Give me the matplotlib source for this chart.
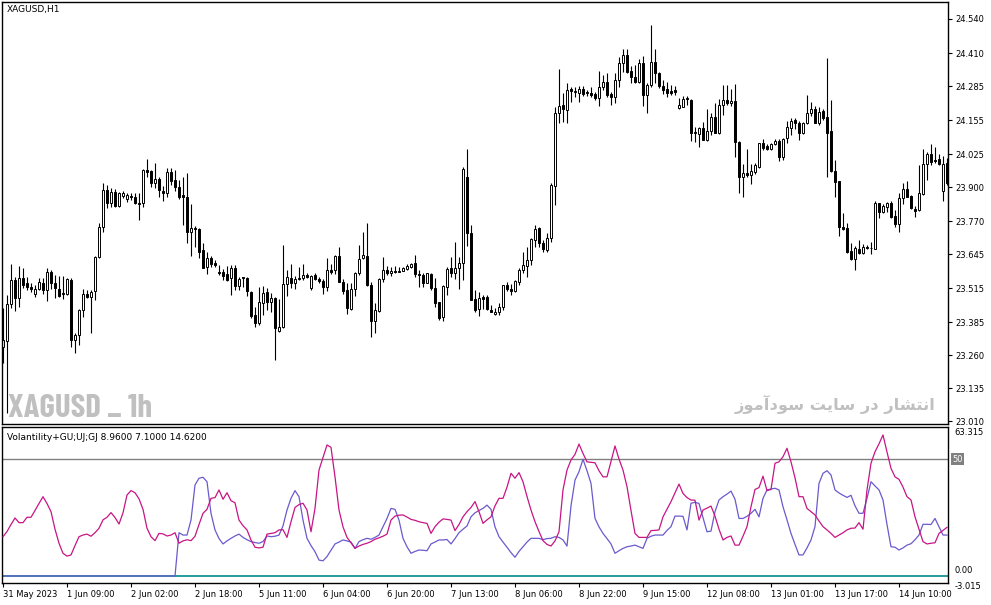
import numpy as np
import matplotlib.pyplot as plt
from matplotlib import font_manager as fm

# XAGUSD H1 candles, 31 May - 14 Jun 2023
opens = [23.291, 23.314, 23.455, 23.547, 23.478, 23.554, 23.535, 23.520, 23.493, 23.512,
         23.535, 23.508, 23.577, 23.535, 23.512, 23.497, 23.493, 23.547, 23.318, 23.337,
         23.432, 23.493, 23.482, 23.505, 23.634, 23.748, 23.889, 23.840, 23.881, 23.828,
         23.866, 23.855, 23.866, 23.862, 23.840, 23.840, 23.965, 23.961, 23.916, 23.931,
         23.885, 23.878, 23.958, 23.927, 23.901, 23.870, 23.862, 23.729, 23.744, 23.741,
         23.661, 23.596, 23.630, 23.611, 23.577, 23.577, 23.569, 23.554, 23.592, 23.524,
         23.558, 23.554, 23.501, 23.413, 23.383, 23.459, 23.501, 23.463, 23.478, 23.352,
         23.368, 23.531, 23.554, 23.535, 23.554, 23.554, 23.566, 23.516, 23.566, 23.550,
         23.543, 23.520, 23.585, 23.585, 23.638, 23.539, 23.508, 23.436, 23.512, 23.573,
         23.630, 23.638, 23.528, 23.390, 23.428, 23.550, 23.585, 23.573, 23.581, 23.581,
         23.581, 23.588, 23.596, 23.611, 23.569, 23.566, 23.535, 23.569, 23.516, 23.463,
         23.406, 23.520, 23.592, 23.573, 23.592, 23.611, 23.939, 23.725, 23.474, 23.436,
         23.482, 23.482, 23.432, 23.417, 23.425, 23.444, 23.528, 23.512, 23.505, 23.539,
         23.585, 23.600, 23.623, 23.699, 23.744, 23.687, 23.661, 23.706, 23.904, 24.182,
         24.213, 24.194, 24.274, 24.262, 24.258, 24.274, 24.262, 24.258, 24.255, 24.239,
         24.281, 24.300, 24.255, 24.243, 24.308, 24.372, 24.403, 24.342, 24.319, 24.300,
         24.372, 24.251, 24.289, 24.376, 24.334, 24.285, 24.274, 24.266, 24.270, 24.201,
         24.205, 24.239, 24.232, 24.110, 24.102, 24.125, 24.079, 24.114, 24.167, 24.106,
         24.213, 24.232, 24.220, 24.228, 24.072, 23.939, 23.954, 23.946, 23.958, 23.977,
         24.068, 24.057, 24.045, 24.064, 24.076, 24.015, 24.087, 24.125, 24.156, 24.144,
         24.106, 24.144, 24.182, 24.197, 24.144, 24.190, 24.167, 24.114, 23.961, 23.923,
         23.748, 23.744, 23.657, 23.626, 23.664, 23.649, 23.672, 23.668, 23.664, 23.840,
         23.805, 23.824, 23.840, 23.790, 23.760, 23.859, 23.893, 23.866, 23.817, 23.813,
         23.874, 23.988, 24.026, 24.003, 24.007, 23.885, 23.992]
highs = [23.440, 23.489, 23.607, 23.558, 23.600, 23.592, 23.558, 23.535, 23.528, 23.554,
         23.554, 23.592, 23.585, 23.566, 23.562, 23.562, 23.554, 23.554, 23.345, 23.436,
         23.512, 23.508, 23.508, 23.638, 23.764, 23.916, 23.908, 23.897, 23.893, 23.881,
         23.885, 23.878, 23.878, 23.878, 23.878, 23.969, 24.007, 23.965, 23.992, 23.939,
         23.904, 23.973, 23.973, 23.965, 23.927, 23.939, 23.954, 23.836, 23.752, 23.744,
         23.687, 23.653, 23.638, 23.623, 23.604, 23.588, 23.600, 23.604, 23.604, 23.558,
         23.558, 23.558, 23.505, 23.444, 23.520, 23.524, 23.516, 23.497, 23.482, 23.474,
         23.680, 23.585, 23.607, 23.562, 23.596, 23.607, 23.573, 23.566, 23.573, 23.558,
         23.550, 23.630, 23.607, 23.642, 23.672, 23.550, 23.535, 23.535, 23.577, 23.680,
         23.729, 23.764, 23.539, 23.459, 23.554, 23.634, 23.600, 23.596, 23.600, 23.596,
         23.596, 23.607, 23.611, 23.642, 23.585, 23.573, 23.573, 23.573, 23.554, 23.463,
         23.528, 23.596, 23.634, 23.691, 23.634, 23.977, 24.045, 23.756, 23.508, 23.501,
         23.489, 23.489, 23.451, 23.440, 23.459, 23.528, 23.539, 23.531, 23.547, 23.592,
         23.653, 23.672, 23.706, 23.756, 23.748, 23.699, 23.725, 23.916, 24.205, 24.350,
         24.258, 24.296, 24.281, 24.281, 24.285, 24.285, 24.270, 24.281, 24.262, 24.342,
         24.327, 24.334, 24.262, 24.334, 24.395, 24.426, 24.426, 24.361, 24.365, 24.388,
         24.399, 24.296, 24.517, 24.426, 24.338, 24.308, 24.300, 24.289, 24.285, 24.239,
         24.247, 24.247, 24.236, 24.129, 24.129, 24.148, 24.197, 24.182, 24.220, 24.236,
         24.289, 24.289, 24.274, 24.293, 24.076, 23.988, 24.045, 23.988, 23.992, 24.068,
         24.083, 24.064, 24.068, 24.083, 24.083, 24.087, 24.152, 24.163, 24.163, 24.152,
         24.148, 24.251, 24.224, 24.209, 24.205, 24.197, 24.392, 24.232, 24.003, 23.923,
         23.802, 23.764, 23.687, 23.676, 23.699, 23.684, 23.680, 23.691, 23.847, 23.840,
         23.836, 23.843, 23.847, 23.813, 23.878, 23.916, 23.923, 23.870, 23.828, 23.984,
         24.045, 24.034, 24.064, 24.053, 24.026, 24.018, 24.011]
lows = [23.231, 23.040, 23.440, 23.428, 23.444, 23.516, 23.508, 23.501, 23.482, 23.508,
        23.493, 23.467, 23.512, 23.478, 23.482, 23.474, 23.489, 23.291, 23.269, 23.299,
        23.406, 23.478, 23.345, 23.470, 23.630, 23.729, 23.821, 23.824, 23.824, 23.824,
        23.859, 23.843, 23.851, 23.836, 23.775, 23.824, 23.939, 23.901, 23.897, 23.862,
        23.847, 23.862, 23.908, 23.885, 23.855, 23.756, 23.687, 23.638, 23.672, 23.630,
        23.592, 23.569, 23.596, 23.596, 23.566, 23.547, 23.543, 23.489, 23.508, 23.508,
        23.520, 23.486, 23.402, 23.368, 23.375, 23.413, 23.432, 23.425, 23.242, 23.349,
        23.364, 23.486, 23.516, 23.512, 23.547, 23.547, 23.554, 23.508, 23.547, 23.535,
        23.493, 23.505, 23.569, 23.569, 23.539, 23.493, 23.417, 23.432, 23.486, 23.566,
        23.626, 23.524, 23.330, 23.345, 23.425, 23.539, 23.566, 23.562, 23.573, 23.577,
        23.581, 23.585, 23.592, 23.558, 23.520, 23.520, 23.535, 23.508, 23.444, 23.394,
        23.390, 23.489, 23.558, 23.550, 23.512, 23.547, 23.676, 23.470, 23.425, 23.409,
        23.436, 23.432, 23.425, 23.413, 23.413, 23.432, 23.505, 23.489, 23.501, 23.528,
        23.573, 23.558, 23.604, 23.672, 23.672, 23.653, 23.653, 23.691, 23.832, 24.144,
        24.148, 24.144, 24.224, 24.243, 24.224, 24.247, 24.247, 24.243, 24.232, 24.209,
        24.270, 24.243, 24.213, 24.220, 24.281, 24.338, 24.334, 24.296, 24.296, 24.296,
        24.209, 24.182, 24.281, 24.296, 24.277, 24.255, 24.243, 24.251, 24.251, 24.197,
        24.205, 24.213, 24.076, 24.072, 24.053, 24.079, 24.076, 24.098, 24.106, 24.102,
        24.175, 24.213, 24.209, 24.015, 23.878, 23.862, 23.939, 23.912, 23.950, 23.973,
        24.041, 24.041, 24.041, 24.060, 23.999, 24.003, 24.068, 24.098, 24.121, 24.079,
        24.102, 24.140, 24.171, 24.144, 24.137, 24.156, 23.939, 23.958, 23.862, 23.714,
        23.737, 23.649, 23.623, 23.585, 23.645, 23.645, 23.664, 23.645, 23.664, 23.783,
        23.802, 23.805, 23.783, 23.748, 23.729, 23.836, 23.862, 23.817, 23.786, 23.809,
        23.870, 23.927, 23.984, 23.992, 23.984, 23.847, 23.908]
closes = [23.318, 23.455, 23.547, 23.478, 23.554, 23.528, 23.520, 23.512, 23.512, 23.539,
          23.508, 23.577, 23.535, 23.516, 23.486, 23.493, 23.550, 23.318, 23.337, 23.432,
          23.493, 23.482, 23.501, 23.634, 23.748, 23.889, 23.840, 23.881, 23.828, 23.878,
          23.878, 23.870, 23.862, 23.840, 23.836, 23.965, 23.958, 23.916, 23.931, 23.889,
          23.878, 23.958, 23.923, 23.901, 23.862, 23.862, 23.729, 23.744, 23.741, 23.653,
          23.592, 23.630, 23.607, 23.604, 23.573, 23.562, 23.547, 23.592, 23.524, 23.550,
          23.554, 23.505, 23.409, 23.383, 23.463, 23.497, 23.463, 23.478, 23.364, 23.368,
          23.531, 23.558, 23.535, 23.550, 23.550, 23.566, 23.558, 23.562, 23.550, 23.543,
          23.520, 23.585, 23.577, 23.638, 23.539, 23.505, 23.440, 23.512, 23.573, 23.626,
          23.642, 23.528, 23.390, 23.432, 23.550, 23.585, 23.573, 23.581, 23.577, 23.577,
          23.592, 23.600, 23.607, 23.569, 23.566, 23.535, 23.573, 23.516, 23.459, 23.402,
          23.524, 23.588, 23.573, 23.592, 23.611, 23.969, 23.725, 23.470, 23.432, 23.478,
          23.474, 23.436, 23.425, 23.425, 23.444, 23.528, 23.512, 23.505, 23.543, 23.585,
          23.604, 23.623, 23.703, 23.741, 23.687, 23.664, 23.706, 23.908, 24.182, 24.209,
          24.197, 24.270, 24.266, 24.266, 24.274, 24.255, 24.258, 24.251, 24.239, 24.281,
          24.300, 24.251, 24.243, 24.308, 24.372, 24.403, 24.338, 24.319, 24.300, 24.372,
          24.251, 24.289, 24.376, 24.334, 24.285, 24.270, 24.258, 24.258, 24.262, 24.213,
          24.236, 24.236, 24.106, 24.106, 24.125, 24.079, 24.114, 24.167, 24.106, 24.213,
          24.232, 24.220, 24.228, 24.072, 23.939, 23.954, 23.946, 23.961, 23.984, 24.068,
          24.049, 24.045, 24.064, 24.076, 24.015, 24.083, 24.129, 24.152, 24.144, 24.106,
          24.144, 24.182, 24.197, 24.144, 24.186, 24.163, 24.106, 23.961, 23.920, 23.748,
          23.741, 23.653, 23.626, 23.668, 23.649, 23.672, 23.668, 23.668, 23.840, 23.805,
          23.828, 23.840, 23.786, 23.760, 23.859, 23.893, 23.862, 23.821, 23.809, 23.878,
          23.988, 24.026, 23.996, 23.999, 23.988, 23.988, 23.916]

# indicator: Volantility+GU;UJ;GJ
vol_magenta = [16.8, 19, 22, 24.8, 22.8, 22.8, 25.1, 25.1, 28, 31,
               33.9, 31, 27.5, 20, 14, 9.7, 8.5, 9, 13, 16.8,
               17.5, 17.9, 17, 18.5, 20.4, 24, 25.1, 27.1, 25, 22.2,
               27, 34.6, 36.5, 35.6, 33, 28.5, 20.4, 16.8, 15.1, 18.2,
               18, 17.1, 17.5, 18.5, 14.0, 15, 15.5, 15.1, 17, 22,
               26.8, 28.5, 33.2, 33.5, 36.8, 32.8, 35.6, 32.2, 31.3, 23.9,
               21.5, 19.7, 15.4, 12.3, 12.0, 12.3, 17.9, 18.2, 18.5, 19.7,
               19.8, 16.5, 23.2, 29.3, 30.5, 31.1, 28.2, 18.9, 28.9, 45.3,
               50.7, 56.0, 55.0, 42.4, 28.2, 21, 16.5, 14.2, 11.8, 12.8,
               13.5, 14, 14.7, 15.7, 16.3, 17, 17.9, 23.9, 25.6, 26,
               26.1, 25.2, 24.2, 23.8, 23.2, 22.8, 22.5, 18.2, 21.1, 23,
               24.4, 24.2, 23.9, 19.4, 22, 25.3, 27.5, 29.3, 31.8, 27.5,
               22.5, 24, 25.3, 30, 33.2, 33.2, 38, 43.9, 41.8, 44.2,
               40.3, 34, 28.2, 23.2, 19, 15.1, 13.5, 12.8, 15, 18.9,
               36.8, 45.3, 49.6, 52, 56.4, 52.4, 48.8, 48.6, 48.4, 45,
               42.4, 42.4, 49, 55.6, 50, 45.3, 38.2, 28, 18.2, 16.5,
               16.5, 16.5, 19.4, 19.5, 19.7, 25.3, 28.5, 31.8, 35.5, 39.3,
               35.3, 33.5, 32.5, 32.4, 23.9, 28.2, 29, 29.9, 25.6, 20,
               15.4, 16.5, 17.1, 13.2, 13.2, 17, 21.1, 29.6, 37.0, 37.8,
               42.7, 36.5, 37, 48.2, 48.8, 51, 54.6, 48.8, 42, 33.9,
               33.9, 28.9, 27.5, 26.1, 23.5, 21.1, 19.7, 18.2, 16.5, 17.5,
               18.5, 19.7, 20.4, 20.5, 22.8, 20.0, 36.8, 48.2, 53.1, 56.5,
               60.3, 53, 46.0, 42.4, 41.3, 38, 33.9, 32.5, 25.3, 20,
               14.7, 13.7, 14, 14.2, 18.2, 19.5, 20.8]
vol_blue = [0] * 44 + [
               18.5, 17.5, 17.5, 23.9, 38.9, 41.8, 42.2, 40.3, 26.8, 19.7,
               16, 13.7, 15, 16.1, 17.1, 17.9, 16.5, 15.5, 14.7, 14.3,
               14.0, 14.7, 17.1, 16.8, 17, 17.5, 21.4, 28.2, 33.2, 36.5,
               33.9, 23.9, 16.1, 13, 10.4, 6.8, 6.5, 8.3, 11, 13.7,
               14.5, 15.4, 15, 14.5, 11.8, 14.7, 15.5, 16.1, 15.7, 16.5,
               17.5, 21, 24.6, 28.9, 28.5, 23.9, 16.1, 12.5, 9.7, 10.5,
               11.1, 11, 10.8, 13.7, 14.5, 15.4, 15.4, 15.6, 13.7, 16,
               18.5, 20, 21.4, 25.3, 27, 28, 28.9, 30.3, 28.5, 21,
               16.8, 14.5, 12.3, 10, 8.0, 10.5, 12.5, 14.5, 16.1, 16.1,
               16.1, 15.5, 16, 16.1, 16.8, 16.5, 15.4, 12.8, 30, 41.0,
               44.6, 49.9, 45, 39.6, 24.6, 21, 18.2, 16, 13.7, 9.7,
               10.8, 11.8, 12.5, 12.8, 13.2, 12.5, 11.8, 16.1, 17, 17.5,
               17.5, 17.5, 19.5, 21.1, 25.6, 25.6, 25.5, 19.7, 31.1, 31.5,
               31, 25, 18.9, 19.2, 27.5, 32.5, 33.9, 35, 36.3, 32.8,
               24.6, 24.6, 25.5, 26.8, 28.5, 25.3, 33.2, 36.8, 37.2, 37.5,
               36.8, 29.6, 24, 18.2, 13.5, 9.0, 9.0, 12, 15.4, 21.1,
               39.6, 43.9, 45.0, 43.2, 36.8, 35.5, 34.5, 33.6, 34.5, 30,
               26.8, 26.8, 33.2, 40.3, 38.5, 36.8, 32.5, 22, 12.5, 12.3,
               11.1, 12, 13.2, 13.8, 15.5, 17.5, 22.1, 22.1, 22, 24.6,
               21, 17.5, 17.5]

price_ticks = [24.540, 24.410, 24.285, 24.155, 24.025, 23.900, 23.770,
               23.645, 23.515, 23.385, 23.260, 23.135, 23.010]
time_labels = ["31 May 2023", "1 Jun 09:00", "2 Jun 02:00", "2 Jun 18:00",
               "5 Jun 11:00", "6 Jun 04:00", "6 Jun 20:00", "7 Jun 13:00",
               "8 Jun 06:00", "8 Jun 22:00", "9 Jun 15:00", "12 Jun 08:00",
               "13 Jun 01:00", "13 Jun 17:00", "14 Jun 10:00"]
label_step = 16

watermark_en = "XAGUSD _ 1h"
watermark_fa = "انتشار در سایت سودآموز"

# matplotlib has no arabic shaping, so pick the presentation forms by hand
FORMS = {
    'ا': ('\uFE8D', '\uFE8E', None, None),
    'آ': ('\uFE81', '\uFE82', None, None),
    'ن': ('\uFEE5', '\uFEE6', '\uFEE7', '\uFEE8'),
    'ت': ('\uFE95', '\uFE96', '\uFE97', '\uFE98'),
    'ش': ('\uFEB5', '\uFEB6', '\uFEB7', '\uFEB8'),
    'ر': ('\uFEAD', '\uFEAE', None, None),
    'د': ('\uFEA9', '\uFEAA', None, None),
    'س': ('\uFEB1', '\uFEB2', '\uFEB3', '\uFEB4'),
    'ی': ('\uFBFC', '\uFBFD', '\uFBFE', '\uFBFF'),
    'و': ('\uFEED', '\uFEEE', None, None),
    'م': ('\uFEE1', '\uFEE2', '\uFEE3', '\uFEE4'),
    'ز': ('\uFEAF', '\uFEB0', None, None),
}


def shape_word(word):
    out = []
    for k, ch in enumerate(word):
        iso, fin, ini, med = FORMS[ch]
        prev_joins = k > 0 and FORMS[word[k - 1]][2] is not None
        next_joins = k + 1 < len(word) and ini is not None
        if prev_joins and next_joins:
            out.append(med)
        elif prev_joins:
            out.append(fin)
        elif next_joins:
            out.append(ini)
        else:
            out.append(iso)
    return ''.join(reversed(out))


def shape_rtl(text):
    return ' '.join(shape_word(w) for w in reversed(text.split()))


def condensed_bold():
    # look for a bold condensed face for the watermark, else plain DejaVu bold
    for want in ('Barlow Condensed', 'Asap Condensed', 'Archivo Narrow'):
        for f in fm.fontManager.ttflist:
            if f.name == want and f.style == 'normal' and f.weight in (700, 'bold'):
                return fm.FontProperties(fname=f.fname)
    return fm.FontProperties(family='DejaVu Sans', weight='bold')


def fit_width(t, target_px, renderer):
    w = t.get_window_extent(renderer).width
    t.set_fontsize(t.get_fontsize() * target_px / w)


W, H = 991, 605
fig = plt.figure(figsize=(W / 100, H / 100), dpi=100)
fig.patch.set_facecolor('white')

ax = fig.add_axes([2 / W, 1 - 424 / H, 946 / W, 422 / H])
ax2 = fig.add_axes([2 / W, 1 - 583 / H, 946 / W, 156 / H])

o = np.array(opens)
c = np.array(closes)
x = np.arange(len(o))
up = c >= o

ax.vlines(x, lows, highs, color='black', linewidth=0.8, zorder=1)
ax.bar(x, np.abs(c - o), bottom=np.minimum(o, c), width=0.55,
       color=['white' if u else 'black' for u in up], edgecolor='black',
       linewidth=0.7, zorder=2)

ax.set_xlim(-0.25, len(o) - 0.75)
ax.set_ylim(22.9986, 24.6047)
ax.yaxis.tick_right()
ax.set_yticks(price_ticks)
ax.set_yticklabels([f"{v:.3f}" for v in price_ticks])
ax.tick_params(axis='y', length=3, width=0.8, pad=2, labelsize=6)
ax.set_xticks([])
for s in ax.spines.values():
    s.set_linewidth(1.0)

ax.text(0.005, 0.982, "XAGUSD,H1", transform=ax.transAxes, fontsize=6.5,
        va='center', ha='left')

wm1 = fig.text(8 / W, 1 - 417 / H, watermark_en, fontproperties=condensed_bold(),
               color='#c0c0c0', ha='left', va='baseline', zorder=0)
wm1.set_fontsize(30)
wm2 = fig.text(935 / W, 1 - 410 / H, shape_rtl(watermark_fa), fontsize=15,
               fontweight='bold', family='DejaVu Sans', color='#c0c0c0',
               ha='right', va='baseline', zorder=0)

# indicator panel
ax2.axhline(0, color='#008b8b', linewidth=1.2, zorder=1)
ax2.axhline(50, color='#808080', linewidth=1.0, zorder=1)
ax2.plot(x, vol_blue, color='#6a5acd', linewidth=0.9, zorder=2)
ax2.plot(x, vol_magenta, color='#c71585', linewidth=0.9, zorder=3)
ax2.set_xlim(-0.25, len(o) - 0.75)
ax2.set_ylim(-3.0, 63.7)
ax2.set_yticks([])
ticks = np.arange(len(time_labels)) * label_step
ax2.set_xticks(ticks)
ax2.set_xticklabels(time_labels, ha='left')
ax2.tick_params(axis='x', length=3, width=0.8, pad=2, labelsize=6)
for s in ax2.spines.values():
    s.set_linewidth(1.0)

ax2.text(0.005, 0.93, "Volantility+GU;UJ;GJ 8.9600 7.1000 14.6200",
         transform=ax2.transAxes, fontsize=6.5, va='center', ha='left')
ytr = ax2.get_yaxis_transform()
ax2.text(1.007, 63.315, "63.315", transform=ytr, fontsize=6, va='top', ha='left')
ax2.text(1.005, 50, "50", transform=ytr, fontsize=6, va='center', ha='left',
         color='white', bbox=dict(boxstyle='square,pad=0.15', facecolor='#808080',
                                  edgecolor='none'))
ax2.text(1.007, 0.3, "0.00", transform=ytr, fontsize=6, va='bottom', ha='left')
ax2.text(1.007, -2.6, "-3.015", transform=ytr, fontsize=6, va='top', ha='left')

fig.canvas.draw()
r = fig.canvas.get_renderer()
fit_width(wm1, 144, r)
fit_width(wm2, 200, r)

fig.savefig("out.png", dpi=100)
